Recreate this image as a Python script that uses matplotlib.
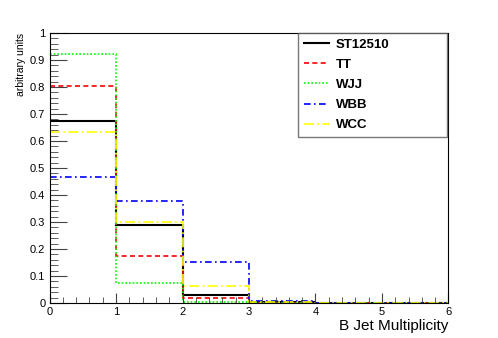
import matplotlib.pyplot as plt
import numpy as np
from matplotlib.ticker import MultipleLocator

plt.rcParams['font.family'] = ['Liberation Sans', 'DejaVu Sans']

edges = [0, 1, 2, 3, 4, 5, 6]
names = ["ST12510", "TT", "WJJ", "WBB", "WCC"]
st12510 = [0.675, 0.290, 0.030, 0.002, 0.0, 0.0]
tt = [0.803, 0.175, 0.018, 0.001, 0.0, 0.0]
wjj = [0.922, 0.075, 0.003, 0.0, 0.0, 0.0]
wbb = [0.465, 0.377, 0.150, 0.006, 0.001, 0.0]
wcc = [0.632, 0.300, 0.063, 0.003, 0.0, 0.0]
ytick_labels = ["0", "0.1", "0.2", "0.3", "0.4", "0.5", "0.6", "0.7", "0.8", "0.9", "1"]

series = [st12510, tt, wjj, wbb, wcc]
colors = ["black", "#ff0000", "#00ff00", "#0000ff", "#ffff00"]
styles = ["-", (0, (3, 2)), (0, (1, 1.2)), (0, (4, 2, 1, 2)), (0, (6, 2, 1, 2))]
widths = [1.5, 1.2, 1.2, 1.2, 1.2]

fig = plt.figure(figsize=(4.98, 3.38), dpi=100)
ax = fig.add_axes([0.0994, 0.1036, 0.8012, 0.7988])

handles = []
for vals, name, c, ls, lw in zip(series, names, colors, styles, widths):
    ax.stairs(vals, edges, color=c, linestyle=ls, linewidth=lw, baseline=None)
    h, = ax.plot([], [], color=c, linestyle=ls, linewidth=lw, label=name)
    handles.append(h)

ax.set_xlim(0, 6)
ax.set_ylim(0, 1)
ax.xaxis.set_major_locator(MultipleLocator(1))
ax.xaxis.set_minor_locator(MultipleLocator(0.2))
ax.set_yticks(np.arange(0, 1.01, 0.1))
ax.set_yticklabels(ytick_labels)
ax.yaxis.set_minor_locator(MultipleLocator(0.02))
ax.tick_params(which="both", direction="in", labelsize=8, color="#444444")
ax.tick_params(axis="y", which="major", length=12, pad=3)
ax.tick_params(axis="y", which="minor", length=6)
ax.tick_params(axis="x", which="major", length=7, pad=3)
ax.tick_params(axis="x", which="minor", length=4)

ax.set_xlabel("B Jet Multiplicity", fontsize=11, loc="right", labelpad=1)
ax.set_ylabel("arbitrary units", fontsize=7.5, loc="top", labelpad=3)

leg = ax.legend(handles=handles, loc="upper left", bbox_to_anchor=(0.623, 0.626, 0.373, 0.374),
                mode="expand", prop={"weight": "bold", "size": 9.5}, frameon=True,
                fancybox=False, shadow=False, handlelength=1.9, labelspacing=0.6,
                borderpad=0.42, handletextpad=0.55, borderaxespad=0)
leg.get_frame().set_edgecolor("#555555")
leg.get_frame().set_linewidth(1.0)

fig.savefig("out.png", dpi=100)
